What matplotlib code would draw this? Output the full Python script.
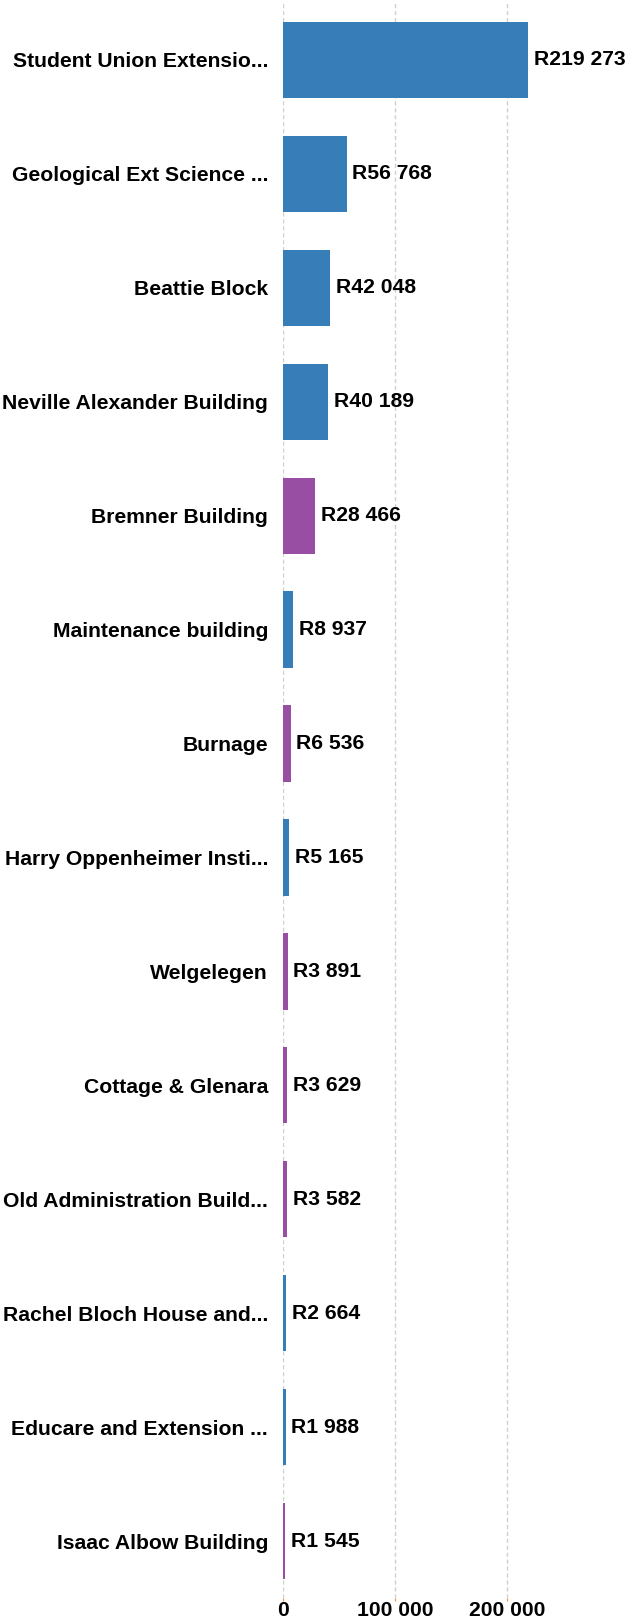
import matplotlib
matplotlib.use("Agg")
import matplotlib.pyplot as plt

categories = [
    "Student Union Extensio...",
    "Geological Ext Science ...",
    "Beattie Block",
    "Neville Alexander Building",
    "Bremner Building",
    "Maintenance building",
    "Burnage",
    "Harry Oppenheimer Insti...",
    "Welgelegen",
    "Cottage & Glenara",
    "Old Administration Build...",
    "Rachel Bloch House and...",
    "Educare and Extension ...",
    "Isaac Albow Building",
]
values = [219273, 56768, 42048, 40189, 28466, 8937, 6536, 5165, 3891, 3629, 3582, 2664, 1988, 1545]
groups = ["a", "a", "a", "a", "b", "a", "b", "a", "b", "b", "b", "a", "a", "b"]
group_colors = {"a": "#377eb8", "b": "#984ea3"}
xticks = [0, 100000, 200000]
xtick_labels = ["0", "100 000", "200 000"]

plt.rcParams["font.family"] = ["Liberation Sans", "DejaVu Sans"]
plt.rcParams["font.weight"] = "bold"

W, H = 626, 1623
fig = plt.figure(figsize=(W / 100, H / 100), dpi=100)
left = 283.3 / W
right = 1.0
top = 1 - 3 / H
bottom = 1 - 1598 / H
ax = fig.add_axes([left, bottom, right - left, top - bottom])

ypos = list(range(len(categories)))
colors = [group_colors[g] for g in groups]
ax.barh(ypos, values, height=0.67, color=colors, zorder=2)

ax.set_ylim(len(categories) - 0.5, -0.5)
ax.set_xlim(0, (W - 283.3) / 111.7 * 100000)

fs = 15.2
ax.set_yticks(ypos)
ax.set_yticklabels(categories, fontsize=fs, fontweight="bold")
ax.tick_params(axis="y", length=0, pad=11)
ax.set_xticks(xticks)
ax.set_xticklabels(xtick_labels, fontsize=fs, fontweight="bold")
ax.tick_params(axis="x", length=2, width=0.8, color="#f28e2b", pad=0)

for s in ax.spines.values():
    s.set_visible(False)

ax.grid(axis="x", color="#d0d0d0", linestyle=(0, (3, 2)), linewidth=1.0, zorder=0)
ax.set_axisbelow(True)

for y, v in zip(ypos, values):
    label = "R" + f"{v:,}".replace(",", " ")
    ax.annotate(label, (v, y), xytext=(5.5, 0), textcoords="offset pixels",
                va="center", ha="left", fontsize=fs, fontweight="bold", color="black")

fig.savefig("out.png", dpi=100)
